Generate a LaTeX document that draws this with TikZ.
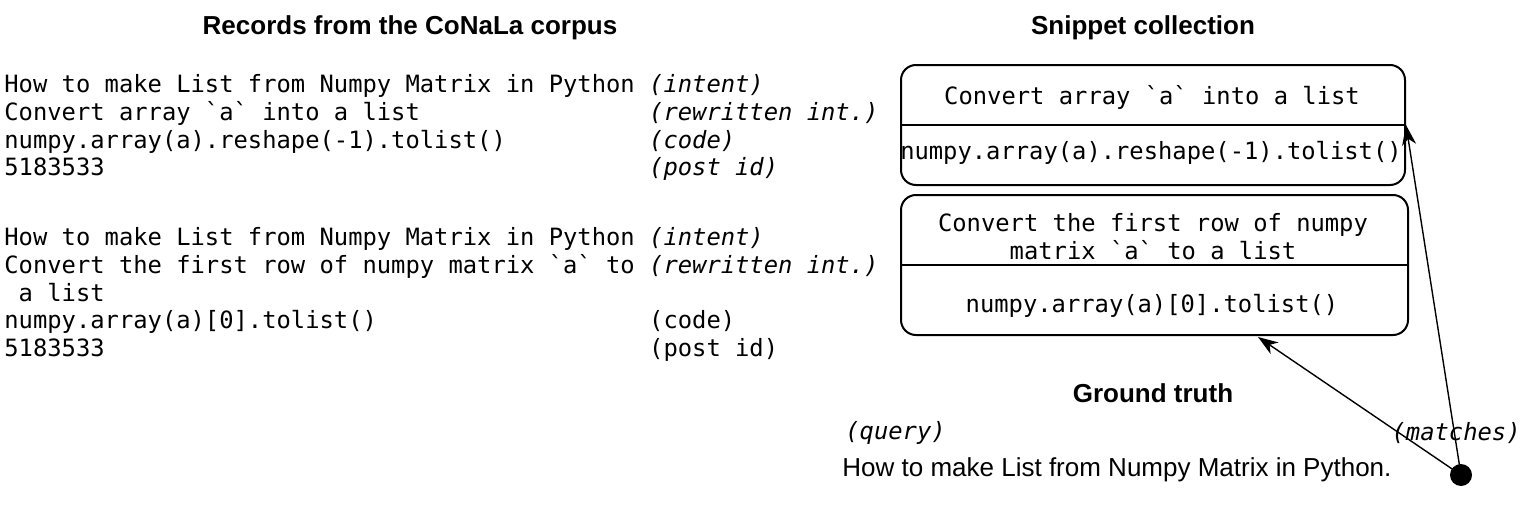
\documentclass[tikz,border=0pt]{standalone}
\usepackage{fontspec}
\setmainfont{Liberation Sans}
\setmonofont{DejaVu Sans Mono}
\usetikzlibrary{arrows.meta}

\newlength\colw
\setlength\colw{322.4pt}
\newcommand\lab[2]{\makebox[\colw][l]{#1}#2}
\newcommand\codefont{\ttfamily\fontsize{11.9}{13.9}\selectfont\setlength\spaceskip{0.60205em}}

\tikzset{
  heading/.style={font=\fontsize{13}{15}\selectfont\bfseries},
  codetext/.style={font=\codefont, align=left, inner sep=0pt},
  snipbox/.style={draw, line width=1pt, rounded corners=7.5pt},
  link/.style={-{Stealth[length=10pt,width=7pt,inset=3pt]}, line width=0.7pt},
}

\begin{document}
\begin{tikzpicture}[x=0.5pt, y=-0.5pt]
    \useasboundingbox (0,0) rectangle (1528,514);

    % records
    \node[heading] (rechead) at (410,28) {Records from the CoNaLa corpus};
    \node[codetext, anchor=north west] (rec1) at (4,74) {%
\lab{How to make List from Numpy Matrix in Python}{\textit{(intent)}}\\
\lab{Convert array `a` into a list}{\textit{(rewritten int.)}}\\
\lab{numpy.array(a).reshape(-1).tolist()}{\textit{(code)}}\\
\lab{5183533}{\textit{(post id)}}
    };
    \node[codetext, anchor=north west] (rec2) at (4,227) {%
\lab{How to make List from Numpy Matrix in Python}{\textit{(intent)}}\\
\lab{Convert the first row of numpy matrix `a` to}{\textit{(rewritten int.)}}\\
~a list\\
\lab{numpy.array(a)[0].tolist()}{(code)}\\
\lab{5183533}{(post id)}
    };

    % snippets
    \node[heading] (sniphead) at (1143,28) {Snippet collection};
    \node[snipbox, minimum width=252pt, minimum height=60pt] (snip1) at (1153,125) {};
    \draw[line width=1pt] (snip1.west) -- (snip1.east);
    \node[codetext] (snip1q) at (1152,97) {Convert array `a` into a list};
    \node[codetext] (snip1c) at (1151,153) {numpy.array(a).reshape(-1).tolist()};

    \node[snipbox, minimum width=253.5pt, minimum height=70pt] (snip2) at (1154.5,265) {};
    \draw[line width=1pt] (snip2.west) -- (snip2.east);
    \node[codetext, align=center] (snip2q) at (1153,237) {Convert the first row of numpy\\matrix `a` to a list};
    \node[codetext] (snip2c) at (1152,306) {numpy.array(a)[0].tolist()};

    % ground truth
    \node[heading] (gthead) at (1153,393) {Ground truth};
    \node[codetext, anchor=west] (querylab) at (845,433) {\textit{(query)}};
    \node[codetext, anchor=east] (matchlab) at (1521,433) {\textit{(matches)}};
    \node[anchor=west, inner sep=0pt, font=\fontsize{13}{15}\selectfont] (query) at (842,470)
        {How to make List from Numpy Matrix in Python.};
    \node[circle, fill, inner sep=0pt, minimum size=11pt] (gt) at (1461,475) {};
    \coordinate (hit2) at (1258,337);

    \draw[link] (gt.center) -- (snip1.east);
    \draw[link] (gt.center) -- (hit2);
\end{tikzpicture}
\end{document}
